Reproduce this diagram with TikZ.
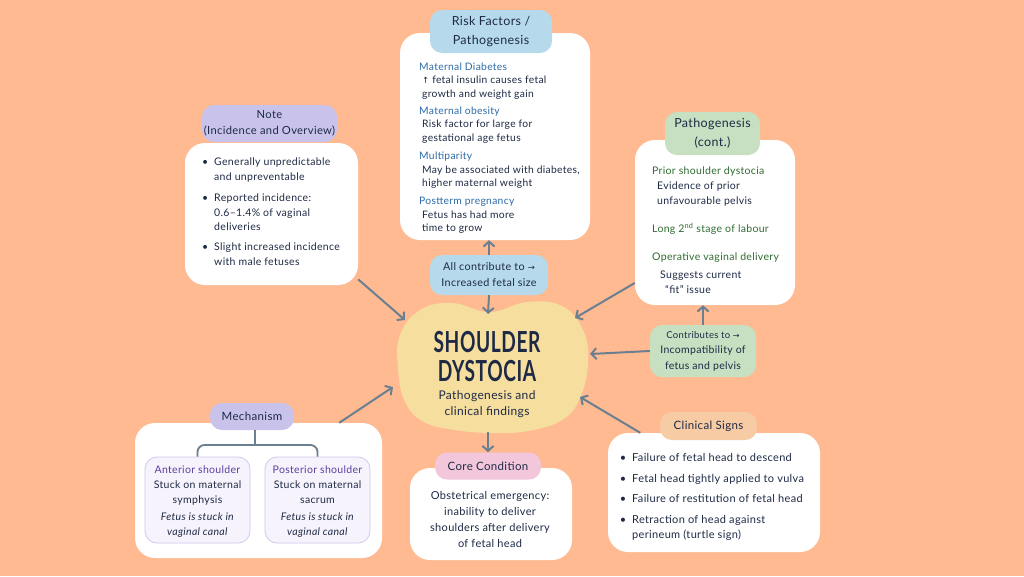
\documentclass[tikz,border=0pt]{standalone}
\usepackage{fontspec}
\usepackage{graphicx}
\setmainfont{Lato}[LetterSpace=3]
\newfontfamily\symfont{DejaVu Sans}
\usetikzlibrary{arrows.meta}

\definecolor{bgpeach}{HTML}{FFBA92}
\definecolor{inkdark}{HTML}{1E2A45}
\definecolor{arrowgrey}{HTML}{6A7F8F}
\definecolor{riskblue}{HTML}{B6DAEC}
\definecolor{riskhead}{HTML}{2B6BA8}
\definecolor{notelilac}{HTML}{C9C3EC}
\definecolor{pathgreen}{HTML}{C6E0C1}
\definecolor{pathhead}{HTML}{2F6B30}
\definecolor{blobyellow}{HTML}{F5DE9E}
\definecolor{mechfill}{HTML}{F6F3FC}
\definecolor{mechline}{HTML}{CFC7EC}
\definecolor{mechpurple}{HTML}{5B3E9E}
\definecolor{corepink}{HTML}{F2C7DB}
\definecolor{clinorange}{HTML}{F7CBA3}

\newcommand{\rhead}[1]{{\color{riskhead}#1}}
\newcommand{\phead}[1]{{\color{pathhead}#1}}
\newcommand{\bul}{\llap{\textbullet\hspace{6pt}}}

\begin{document}
\begin{tikzpicture}[x=1pt, y=-1pt,
  box/.style={fill=white, rounded corners=20pt, inner sep=0pt},
  pill/.style={rounded corners=12pt, inner sep=0pt, align=center, text=inkdark,
    font=\fontsize{12.5}{19}\selectfont},
  body/.style={inner sep=0pt, text=inkdark, font=\fontsize{10.5}{15}\selectfont},
  arr/.style={draw=arrowgrey, line width=2pt, -{Straight Barb[length=5pt,width=11pt]}},
  mechsub/.style={fill=mechfill, draw=mechline, line width=0.8pt, rounded corners=12pt,
    minimum width=105pt, minimum height=86pt, inner sep=0pt}]

\useasboundingbox (0,0) rectangle (1024,576);
\fill [bgpeach] (0,0) rectangle (1024,576);

%%%%%%%%%%%%%%%%%%%
% Centre

\fill [blobyellow] plot [smooth cycle, tension=0.7] coordinates
  {(400,335) (420,310) (452,303) (490,312) (527,302) (562,306) (583,330) (588,362)
   (580,398) (562,420) (528,431) (492,433) (455,430) (424,422) (405,402) (398,368)};

\node (title) [text=inkdark, align=center, font=\bfseries\fontsize{29}{29}\selectfont]
  at (487,357) {\scalebox{0.66}[1]{SHOULDER}\\\scalebox{0.66}[1]{DYSTOCIA}};
\node (subtitle) [body, align=center, font=\fontsize{12}{16}\selectfont]
  at (487,404) {Pathogenesis and\\clinical findings};

\coordinate (blobn) at (488,314);
\coordinate (blobs) at (488,432);
\coordinate (blobnw) at (405,320);
\coordinate (blobne) at (575,318);
\coordinate (blobsw) at (393,387);
\coordinate (blobse) at (580,397);
\coordinate (blobe) at (590,354);

%%%%%%%%%%%%%%%%%%%
% Risk factors

\node (riskbox) [box, minimum width=190pt, minimum height=207pt] at (495,136.5) {};
\node (riskpill) [pill, fill=riskblue, minimum width=122pt, minimum height=43pt]
  at (491,31.5) {Risk Factors /\\Pathogenesis};
\node (risktext) [body, anchor=north west, align=left, font=\fontsize{10.3}{13.5}\selectfont]
  at (419,62.5) {\rhead{Maternal Diabetes}\\
  \hspace*{3pt}{\symfont\fontsize{8.5}{10}\selectfont ↑} fetal insulin causes fetal\\
  \hspace*{3pt}growth and weight gain\\[3.5pt]
  \rhead{Maternal obesity}\\
  \hspace*{3pt}Risk factor for large for\\
  \hspace*{3pt}gestational age fetus\\[5pt]
  \rhead{Multiparity}\\
  \hspace*{3pt}May be associated with diabetes,\\
  \hspace*{3pt}higher maternal weight\\[4.5pt]
  \rhead{Postterm pregnancy}\\
  \hspace*{3pt}Fetus has had more\\
  \hspace*{3pt}time to grow};

\node (allpill) [pill, fill=riskblue, minimum width=118pt, minimum height=40pt,
  font=\fontsize{10.8}{16}\selectfont] at (489,275)
  {All contribute to {\symfont\fontsize{8.5}{10}\selectfont →}\\Increased fetal size};

%%%%%%%%%%%%%%%%%%%
% Note

\node (notebox) [box, minimum width=173pt, minimum height=142pt] at (271.5,214) {};
\node (notepill) [pill, fill=notelilac, minimum width=135pt, minimum height=37pt,
  font=\fontsize{11.2}{16}\selectfont] at (269.5,123.5) {Note\\(Incidence and Overview)};
\node (notetext) [body, anchor=north west, align=left, font=\fontsize{10.5}{14.5}\selectfont]
  at (214,158) {\bul Generally unpredictable\\
  and unpreventable\\[7pt]
  \bul Reported incidence:\\
  0.6--1.4\% of vaginal\\
  deliveries\\[5.5pt]
  \bul Slight increased incidence\\
  with male fetuses};

%%%%%%%%%%%%%%%%%%%
% Pathogenesis (cont.)

\node (pathbox) [box, minimum width=160pt, minimum height=165pt] at (715,222.5) {};
\node (pathpill) [pill, fill=pathgreen, minimum width=95pt, minimum height=43pt]
  at (712.5,133.5) {Pathogenesis\\(cont.)};
\node (pathtext) [body, anchor=north west, align=left]
  at (652,167) {\phead{Prior shoulder dystocia}\\
  \hspace*{5pt}Evidence of prior\\
  \hspace*{5pt}unfavourable pelvis\\[13pt]
  \phead{Long 2\textsuperscript{nd} stage of labour}\\[13pt]
  \phead{Operative vaginal delivery}\\[3pt]
  \hspace*{8pt}Suggests current\\
  \hspace*{13pt}“fit” issue};

\node (greenpill) [pill, fill=pathgreen, minimum width=106pt, minimum height=52pt,
  font=\fontsize{10.5}{15.5}\selectfont] at (703,351)
  {{\fontsize{9.5}{10}\selectfont Contributes to {\symfont\fontsize{8}{10}\selectfont →}}\\Incompatibility of\\fetus and pelvis};

%%%%%%%%%%%%%%%%%%%
% Mechanism

\node (mechbox) [box, minimum width=247pt, minimum height=135pt] at (258.5,490.5) {};
\node (mechpill) [pill, fill=notelilac, minimum width=84pt, minimum height=27pt,
  font=\fontsize{11.5}{14}\selectfont] at (252,416.5) {Mechanism};
\node (antbox) [mechsub] at (197.5,500) {};
\node (postbox) [mechsub] at (317.5,500) {};
\node (anttext) [body, align=center] at (197.5,502)
  {{\color{mechpurple}Anterior shoulder}\\Stuck on maternal\\symphysis\\[2pt]
  \textit{Fetus is stuck in}\\\textit{vaginal canal}};
\node (posttext) [body, align=center] at (317.5,502)
  {{\color{mechpurple}Posterior shoulder}\\Stuck on maternal\\sacrum\\[2pt]
  \textit{Fetus is stuck in}\\\textit{vaginal canal}};

\coordinate (mechfork) at (255,445);
\draw [arrowgrey, line width=1.8pt, rounded corners=7pt] (antbox.north) |- (mechfork) -| (postbox.north);
\draw [arrowgrey, line width=1.8pt] (mechpill.south -| mechfork) -- (mechfork);

%%%%%%%%%%%%%%%%%%%
% Core condition

\node (corebox) [box, minimum width=162pt, minimum height=92pt] at (491,514) {};
\node (corepill) [pill, fill=corepink, minimum width=106pt, minimum height=27pt,
  font=\fontsize{11.5}{14}\selectfont] at (488,466) {Core Condition};
\node (coretext) [body, align=center, font=\fontsize{11}{15.7}\selectfont] at (490,519.5)
  {Obstetrical emergency:\\inability to deliver\\shoulders after delivery\\of fetal head};

%%%%%%%%%%%%%%%%%%%
% Clinical signs

\node (clinbox) [box, minimum width=212pt, minimum height=119pt] at (714,492.5) {};
\node (clinpill) [pill, fill=clinorange, minimum width=97pt, minimum height=28pt,
  font=\fontsize{11.5}{14}\selectfont] at (708.5,426) {Clinical Signs};
\node (clintext) [body, anchor=north west, align=left, font=\fontsize{11}{15}\selectfont]
  at (632,453.5) {\bul Failure of fetal head to descend\\[5.5pt]
  \bul Fetal head tightly applied to vulva\\[5.5pt]
  \bul Failure of restitution of fetal head\\[5.5pt]
  \bul Retraction of head against\\
  perineum (turtle sign)};

%%%%%%%%%%%%%%%%%%%
% Arrows

\draw [arr] (allpill.north) -- (allpill.north |- riskbox.south);
\draw [arr] (allpill.south) -- (blobn);
\draw [arr] (notebox.-37) -- (blobnw);
\draw [arr] (pathbox.-143) -- (blobne);
\draw [arr] (mechbox.40) -- (blobsw);
\draw [arr] (clinbox.141.5) -- (blobse);
\draw [arr] (greenpill.west) -- (blobe);
\draw [arr] (greenpill.north) -- (greenpill.north |- pathbox.south);
\draw [arr] (blobs) -- (corepill.north);

\end{tikzpicture}
\end{document}
